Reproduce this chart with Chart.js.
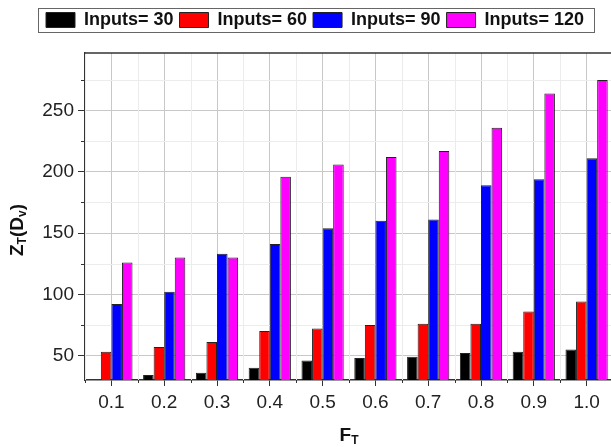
<!DOCTYPE html>
<html>
<head>
<meta charset="utf-8">
<script src="https://cdn.jsdelivr.net/npm/chart.js@4.4.0/dist/chart.umd.min.js"></script>
<style>
  html, body { margin: 0; padding: 0; background: #fff; overflow: hidden; }
  #wrap { position: relative; width: 615px; height: 447px; }
</style>
</head>
<body>
<div id="wrap"><canvas id="chart"></canvas></div>
<script>
// data
const categories = ['0.1', '0.2', '0.3', '0.4', '0.5', '0.6', '0.7', '0.8', '0.9', '1.0'];
const inputs30 = [null, 34, 36, 40, 46, 48, 49, 52, 53, 55];
const inputs60 = [53, 57, 61, 70, 72, 75, 76, 76, 86, 94];
const inputs90 = [92, 102, 133, 141, 154, 160, 161, 189, 194, 211];
const inputs120 = [126, 130, 130, 196, 206, 212, 217, 236, 264, 275];
const seriesNames = ['Inputs= 30', 'Inputs= 60', 'Inputs= 90', 'Inputs= 120'];
const seriesColors = ['#000000', '#ff0000', '#0000ff', '#ff00ff'];
const yMajorTicks = [50, 100, 150, 200, 250];
const yMinorTicks = [75, 125, 175, 225, 275];

const FONT = '"Liberation Sans", Arial, sans-serif';

// small helper for titles with subscripts
function drawParts(ctx, parts, x, y) {
    let total = 0;
    parts.forEach(p => {
        ctx.font = (p.sub ? 'bold 12px ' : 'bold 19px ') + FONT;
        p.w = ctx.measureText(p.t).width;
        total += p.w;
    });
    let cx = x - total / 2;
    parts.forEach(p => {
        ctx.font = (p.sub ? 'bold 12px ' : 'bold 19px ') + FONT;
        ctx.fillText(p.t, cx, y + (p.sub ? 3 : 0));
        cx += p.w;
    });
}

const extras = {
    id: 'extras',
    beforeInit(chart) {
        const fit = chart.legend.fit;
        chart.legend.fit = function () {
            fit.bind(chart.legend)();
            this.height = 48;
        };
    },
    beforeDatasetsDraw(chart) {
        const { ctx, chartArea: a, scales: { x, y } } = chart;
        ctx.save();
        // minor grid + minor ticks
        ctx.lineWidth = 1;
        for (let i = 0; i <= categories.length; i++) {
            const px = Math.round((x.getPixelForValue(i - 1) + x.getPixelForValue(i)) / 2) + 0.5;
            ctx.strokeStyle = '#ececec';
            ctx.beginPath(); ctx.moveTo(px, a.top); ctx.lineTo(px, a.bottom); ctx.stroke();
            ctx.strokeStyle = '#333';
            ctx.beginPath(); ctx.moveTo(px, a.bottom); ctx.lineTo(px, a.bottom + 3); ctx.stroke();
        }
        yMinorTicks.forEach(v => {
            const py = Math.round(y.getPixelForValue(v)) + 0.5;
            ctx.strokeStyle = '#ececec';
            ctx.beginPath(); ctx.moveTo(a.left, py); ctx.lineTo(a.right, py); ctx.stroke();
            ctx.strokeStyle = '#333';
            ctx.beginPath(); ctx.moveTo(a.left - 4, py); ctx.lineTo(a.left, py); ctx.stroke();
        });
        ctx.restore();
    },
    afterDraw(chart) {
        const { ctx, chartArea: a } = chart;
        ctx.save();
        // top frame
        ctx.strokeStyle = '#333';
        ctx.lineWidth = 1.5;
        ctx.beginPath(); ctx.moveTo(a.left, a.top); ctx.lineTo(a.right, a.top); ctx.stroke();

        // legend frame
        const hb = chart.legend.legendHitBoxes;
        if (hb && hb.length) {
            const last = hb[hb.length - 1];
            const l = Math.round(hb[0].left - 8) + 0.5;
            const r = Math.round(last.left + last.width + 10) + 0.5;
            const t = Math.round(hb[0].top - 3) + 0.5;
            const b = Math.round(hb[0].top + hb[0].height + 3) + 0.5;
            ctx.strokeStyle = '#666';
            ctx.lineWidth = 1;
            ctx.strokeRect(l, t, r - l, b - t);
        }

        // axis titles
        ctx.fillStyle = '#111';
        ctx.textBaseline = 'alphabetic';
        drawParts(ctx, [{ t: 'F' }, { t: 'T', sub: true }], (a.left + a.right) / 2, 441);
        ctx.translate(23, 230);
        ctx.rotate(-Math.PI / 2);
        drawParts(ctx, [{ t: 'Z' }, { t: 'T', sub: true }, { t: '(D' }, { t: 'v', sub: true }, { t: ')' }], 0, 0);
        ctx.restore();
    }
};

const datasets = [inputs30, inputs60, inputs90, inputs120].map((d, i) => ({
    label: seriesNames[i],
    data: d,
    backgroundColor: seriesColors[i],
    borderColor: '#222',
    borderWidth: 1,
    borderSkipped: 'start',
    categoryPercentage: 0.8,
    barPercentage: 1.0
}));

new Chart(document.getElementById('chart'), {
    type: 'bar',
    data: { labels: categories, datasets: datasets },
    plugins: [extras],
    options: {
        responsive: true,
        maintainAspectRatio: false,
        animation: false,
        layout: { padding: { left: 40, right: 2, top: 5, bottom: 0 } },
        plugins: {
            tooltip: { enabled: false },
            legend: {
                position: 'top',
                align: 'start',
                labels: {
                    boxWidth: 29,
                    boxHeight: 15,
                    padding: 6,
                    color: '#111',
                    font: { family: FONT, size: 18, weight: 'bold' }
                }
            }
        },
        scales: {
            x: {
                offset: true,
                grid: { offset: false, color: '#c8c8c8', tickColor: '#333', tickLength: 6 },
                border: { color: '#333', width: 1.5 },
                ticks: { color: '#222', padding: 5, maxRotation: 0, font: { family: FONT, size: 19 } },
                afterFit(s) { s.height = 67; }
            },
            y: {
                min: 30,
                max: 297,
                afterBuildTicks(s) { s.ticks = yMajorTicks.map(v => ({ value: v })); },
                grid: { color: '#c8c8c8', tickColor: '#333', tickLength: 7 },
                border: { color: '#333', width: 1.5 },
                ticks: { color: '#222', padding: 4, font: { family: FONT, size: 19 } },
                afterFit(s) { s.width = 45; }
            }
        }
    }
});
</script>
</body>
</html>
